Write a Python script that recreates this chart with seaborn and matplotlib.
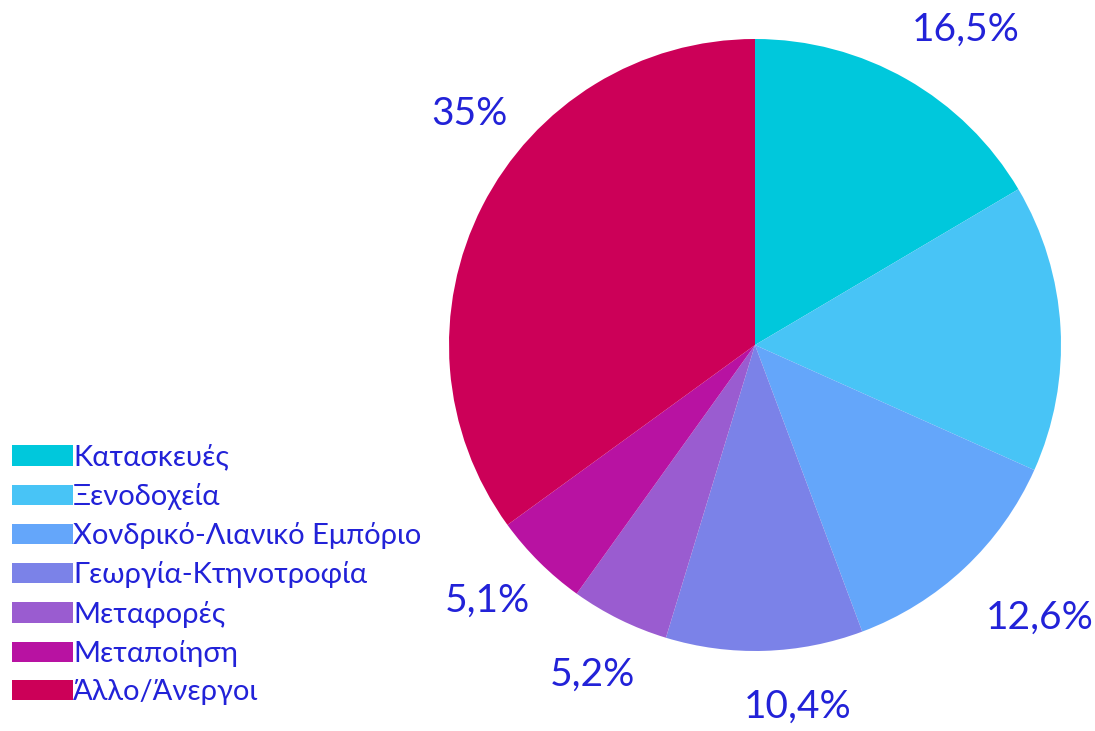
import matplotlib
matplotlib.use("Agg")
import numpy as np
import matplotlib.pyplot as plt
import seaborn as sns

# sectors and shares (%)
sectors = ["Κατασκευές", "Ξενοδοχεία", "Χονδρικό-Λιανικό Εμπόριο",
           "Γεωργία-Κτηνοτροφία", "Μεταφορές", "Μεταποίηση", "Άλλο/Άνεργοι"]
shares = [16.5, 15.2, 12.6, 10.4, 5.2, 5.1, 35.0]
# the hotel slice carries no label in the original
pct_labels = ["16,5%", "", "12,6%", "10,4%", "5,2%", "5,1%", "35%"]
colors = ["#00C8DC", "#48C4F6", "#64A6FA", "#7B82E8", "#9A5CD0", "#B812A2", "#CC0058"]

# label placement tweaks: angle shift (deg, clockwise) and distance (radii)
lab_shift = [4, 0, -3, -5, 0, 1.5, 12]
lab_dist = [1.24, 1.22, 1.29, 1.19, 1.2, 1.21, 1.2]

text_blue = "#2222D8"

sns.set_theme(style="white")
plt.rcParams["font.family"] = ["Lato", "DejaVu Sans"]

fig = plt.figure(figsize=(10.95, 7.31), dpi=100)
# pie centre ~ (755, 345) px, radius ~ 306 px
cx, cy, r = 755 / 1095, 1 - 345 / 731, 306
ax = fig.add_axes([cx - r / 1095, cy - r / 731, 2 * r / 1095, 2 * r / 731])

wedges, texts = ax.pie(
    shares, colors=colors, startangle=90, counterclock=False,
    wedgeprops=dict(linewidth=0),
)
for w, lab, sh, d in zip(wedges, pct_labels, lab_shift, lab_dist):
    mid = np.deg2rad((w.theta1 + w.theta2) / 2 - sh)
    ax.text(d * np.cos(mid), d * np.sin(mid), lab, ha="center", va="center",
            color=text_blue, fontsize=28)
ax.set_xlim(-1, 1)
ax.set_ylim(-1, 1)
ax.set_aspect("equal")

fig.legend(wedges, sectors, loc="upper left", bbox_to_anchor=(12 / 1095, 1 - 444 / 731),
           frameon=False, fontsize=21, labelcolor=text_blue,
           handlelength=2.1, handleheight=0.7, handletextpad=0.0,
           labelspacing=0.42, borderpad=0, borderaxespad=0)

fig.savefig("out.png", dpi=100)
